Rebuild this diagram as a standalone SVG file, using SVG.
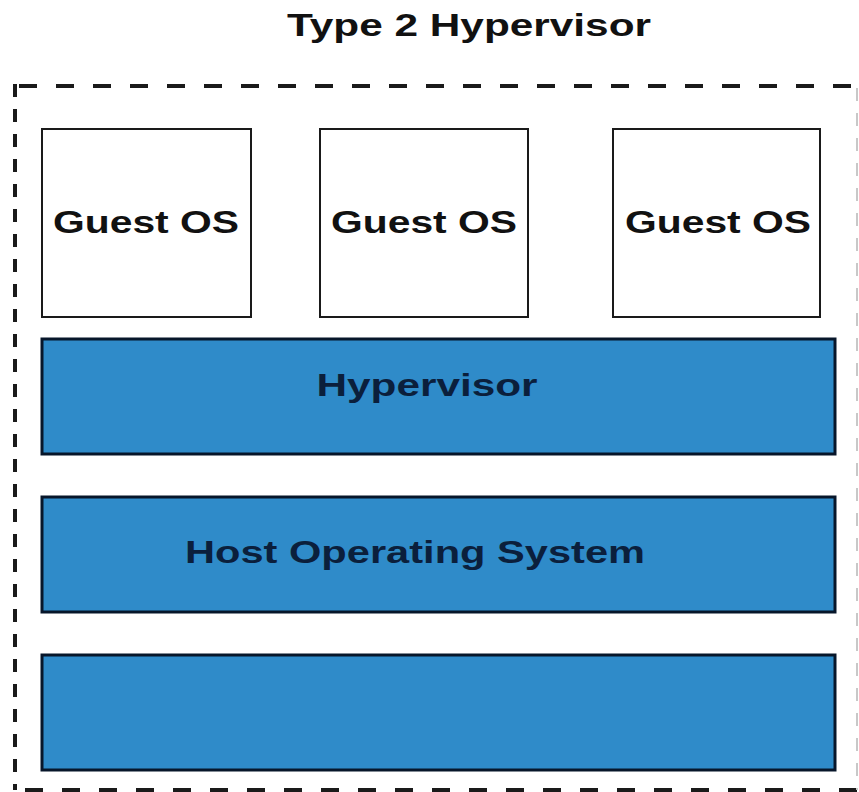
<svg xmlns="http://www.w3.org/2000/svg" width="859" height="792" viewBox="0 0 859 792">
<style>
  .title { font-family: "Liberation Sans", Arial, sans-serif; font-weight: bold; font-size: 32px; fill: #111; }
  .guest rect { fill: #ffffff; stroke: #1a1a1a; stroke-width: 2; }
  .guest text { font-family: "Liberation Sans", Arial, sans-serif; font-weight: bold; font-size: 32px; fill: #111; }
  .layer rect { fill: #2f8bc9; stroke: #07162a; stroke-width: 3; }
  .layer text { font-family: "Liberation Sans", Arial, sans-serif; font-weight: bold; font-size: 32px; fill: #0b1f3c; }
  .hdash { stroke: #1a1a1a; stroke-width: 4; fill: none; stroke-dasharray: 18 19; }
  .vdash { stroke: #1a1a1a; stroke-width: 4; fill: none; stroke-dasharray: 13 12; }
</style>
<rect width="859" height="792" fill="#ffffff"/>
<text class="title" x="469" y="36" text-anchor="middle" textLength="364" lengthAdjust="spacingAndGlyphs">Type 2 Hypervisor</text>
<g id="border">
  <line class="hdash" x1="14" y1="86" x2="858" y2="86" stroke-dashoffset="-5"/>
  <line class="vdash" x1="15" y1="84" x2="15" y2="790"/>
  <line class="hdash" x1="25" y1="790" x2="858" y2="790"/>
  <line x1="857" y1="88" x2="857" y2="790" stroke="#c8c8c8" stroke-width="2" stroke-dasharray="13 12"/>
</g>
<g id="guest1" class="guest">
  <rect x="42" y="129" width="209" height="188"/>
  <text x="146" y="233" text-anchor="middle" textLength="186" lengthAdjust="spacingAndGlyphs">Guest OS</text>
</g>
<g id="guest2" class="guest">
  <rect x="320" y="129" width="208" height="188"/>
  <text x="424" y="233" text-anchor="middle" textLength="186" lengthAdjust="spacingAndGlyphs">Guest OS</text>
</g>
<g id="guest3" class="guest">
  <rect x="613" y="129" width="207" height="188"/>
  <text x="718" y="233" text-anchor="middle" textLength="186" lengthAdjust="spacingAndGlyphs">Guest OS</text>
</g>
<g id="hypervisor" class="layer">
  <rect x="42" y="339" width="793" height="115"/>
  <text x="427" y="396" text-anchor="middle" textLength="221" lengthAdjust="spacingAndGlyphs">Hypervisor</text>
</g>
<g id="host-os" class="layer">
  <rect x="42" y="497" width="793" height="115"/>
  <text x="415" y="563" text-anchor="middle" textLength="460" lengthAdjust="spacingAndGlyphs">Host Operating System</text>
</g>
<g id="hardware" class="layer">
  <rect x="42" y="655" width="793" height="115"/>
</g>
<g id="connectors"></g>
</svg>
